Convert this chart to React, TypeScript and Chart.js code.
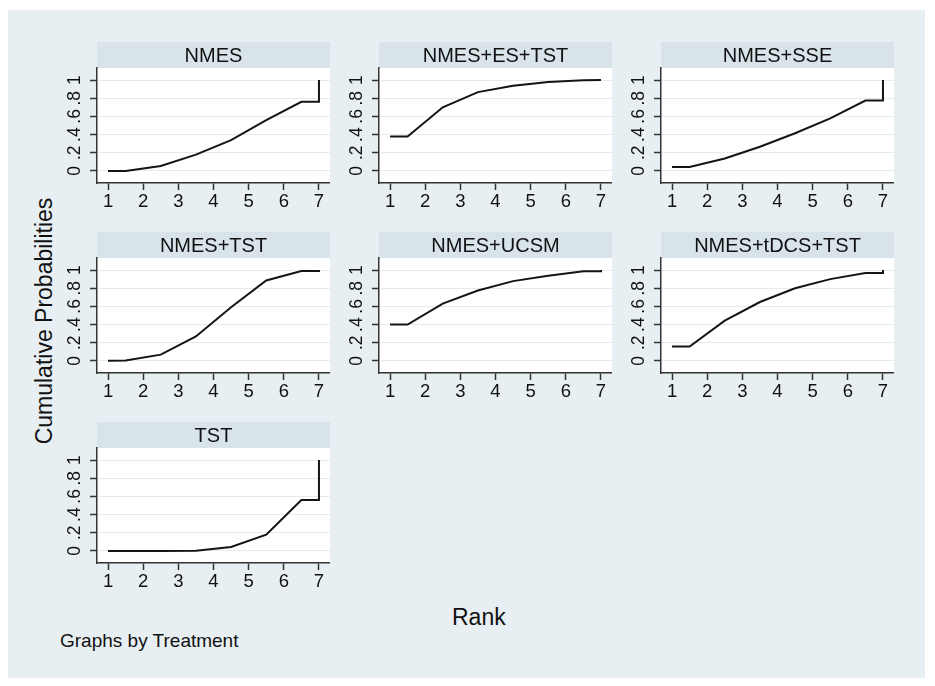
import React, { useEffect, useRef } from "react";
import { Chart, registerables } from "chart.js";

Chart.register(...registerables);

// ---------- data ----------
const treatments = [
  "NMES",
  "NMES+ES+TST",
  "NMES+SSE",
  "NMES+TST",
  "NMES+UCSM",
  "NMES+tDCS+TST",
  "TST",
];
const rankPositions = [1, 1.5, 2.5, 3.5, 4.5, 5.5, 6.5, 7, 7];
const nmes = [0, 0, 0.055, 0.18, 0.34, 0.56, 0.76, 0.76, 1];
const nmesEsTst = [0.38, 0.38, 0.7, 0.867, 0.937, 0.978, 0.996, 1, 1];
const nmesSse = [0.044, 0.044, 0.137, 0.267, 0.415, 0.578, 0.774, 0.774, 1];
const nmesTst = [0.004, 0.005, 0.07, 0.27, 0.59, 0.885, 0.99, 0.99, 1];
const nmesUcsm = [0.4, 0.4, 0.63, 0.774, 0.878, 0.937, 0.985, 0.985, 1];
const nmesTdcsTst = [0.16, 0.16, 0.444, 0.648, 0.8, 0.9, 0.967, 0.967, 1];
const tst = [0, 0, 0, 0.004, 0.044, 0.18, 0.56, 0.56, 1];
const seriesValues = [nmes, nmesEsTst, nmesSse, nmesTst, nmesUcsm, nmesTdcsTst, tst];
const xTicks = [1, 2, 3, 4, 5, 6, 7];
const yTicks = [0, 0.2, 0.4, 0.6, 0.8, 1];
const yTickLabels = ["0", ".2", ".4", ".6", ".8", "1"];
const xTitle = "Rank";
const yTitle = "Cumulative Probabilities";
const note = "Graphs by Treatment";

// ---------- styling / layout ----------
const FONT = "'Liberation Sans', Arial, Helvetica, sans-serif";
const PAGE_BG = "#e8eff2";
const HEADER_BG = "#d8e3ea";
const GRID = "#e4ebee";
const AXIS = "#333333";
const TEXT = "#111111";
const COL_LEFTS = [97, 379, 661];
const ROW_TOPS = [42, 232, 422];
const PLOT_W = 233;
const PLOT_H = 115;
const HEADER_H = 26;
const YAXIS_W = 40;
const XAXIS_H = 36;

const panelBg = {
  id: "panelBg",
  beforeDraw(chart: any) {
    const { ctx, chartArea: a } = chart;
    ctx.save();
    ctx.fillStyle = HEADER_BG;
    ctx.fillRect(a.left, 0, a.right - a.left, a.top);
    ctx.fillStyle = "#ffffff";
    ctx.fillRect(a.left, a.top, a.right - a.left, a.bottom - a.top);
    ctx.restore();
  },
};

function Panel({ name, values, left, top }: { name: string; values: number[]; left: number; top: number }) {
  const ref = useRef<HTMLCanvasElement | null>(null);
  useEffect(() => {
    if (!ref.current) return;
    const chart = new Chart(ref.current, {
      type: "line",
      data: {
        datasets: [
          {
            data: rankPositions.map((x, i) => ({ x, y: values[i] })),
            borderColor: "#141414",
            borderWidth: 2,
            pointRadius: 0,
            tension: 0,
            fill: false,
          },
        ],
      },
      options: {
        animation: false,
        responsive: false,
        events: [],
        layout: { padding: 0 },
        plugins: {
          legend: { display: false },
          tooltip: { enabled: false },
          title: {
            display: true,
            text: name,
            fullSize: false,
            color: TEXT,
            font: { family: FONT, size: 20, weight: "normal", lineHeight: 1 },
            padding: { top: 4, bottom: 2 },
          },
        },
        scales: {
          x: {
            type: "linear",
            min: 0.686,
            max: 7.314,
            afterBuildTicks: (s: any) => {
              s.ticks = xTicks.map((v) => ({ value: v }));
            },
            afterFit: (s: any) => {
              s.height = XAXIS_H;
            },
            grid: { drawOnChartArea: false, tickLength: 7, tickColor: AXIS, tickWidth: 1.5 },
            border: { color: AXIS, width: 1.5 },
            ticks: {
              padding: 1,
              color: TEXT,
              font: { family: FONT, size: 18.5 },
              minRotation: 0,
              maxRotation: 0,
              autoSkip: false,
              callback: (v: any) => String(v),
            },
          },
          y: {
            type: "linear",
            min: -0.132,
            max: 1.132,
            afterBuildTicks: (s: any) => {
              s.ticks = yTicks.map((v) => ({ value: v }));
            },
            afterFit: (s: any) => {
              s.width = YAXIS_W;
            },
            grid: { color: GRID, lineWidth: 1, tickLength: 7, tickColor: AXIS, tickWidth: 1.5 },
            border: { color: AXIS, width: 1.5 },
            ticks: {
              padding: 8,
              crossAlign: "center",
              minRotation: 90,
              maxRotation: 90,
              autoSkip: false,
              color: TEXT,
              font: { family: FONT, size: 17.5 },
              callback: (v: any) => {
                const i = yTicks.findIndex((t) => Math.abs(t - Number(v)) < 1e-6);
                return i >= 0 ? yTickLabels[i] : "";
              },
            },
          },
        },
      } as any,
      plugins: [panelBg],
    });
    return () => chart.destroy();
  }, [name, values]);
  const w = YAXIS_W + PLOT_W;
  const h = HEADER_H + PLOT_H + XAXIS_H;
  return (
    <canvas
      ref={ref}
      width={w}
      height={h}
      style={{ position: "absolute", left: left - YAXIS_W, top, width: w, height: h }}
    />
  );
}

export default function App() {
  return (
    <div
      style={{
        position: "absolute",
        left: 0,
        top: 0,
        width: 935,
        height: 686,
        background: "#ffffff",
        fontFamily: FONT,
        overflow: "hidden",
      }}
    >
      <div style={{ position: "absolute", left: 8, top: 10, width: 917, height: 668, background: PAGE_BG }} />
      {treatments.map((name, i) => (
        <Panel
          key={name}
          name={name}
          values={seriesValues[i]}
          left={COL_LEFTS[i % 3]}
          top={ROW_TOPS[Math.floor(i / 3)]}
        />
      ))}
      <div
        style={{
          position: "absolute",
          left: 44,
          top: 321,
          transform: "translate(-50%, -50%) rotate(-90deg)",
          whiteSpace: "nowrap",
          fontSize: 23,
          lineHeight: 1,
          color: TEXT,
        }}
      >
        {yTitle}
      </div>
      <div
        style={{
          position: "absolute",
          left: 452,
          top: 606,
          whiteSpace: "nowrap",
          fontSize: 23,
          lineHeight: 1,
          color: TEXT,
        }}
      >
        {xTitle}
      </div>
      <div
        style={{
          position: "absolute",
          left: 60,
          top: 631,
          whiteSpace: "nowrap",
          fontSize: 19,
          lineHeight: 1,
          color: TEXT,
        }}
      >
        {note}
      </div>
    </div>
  );
}
